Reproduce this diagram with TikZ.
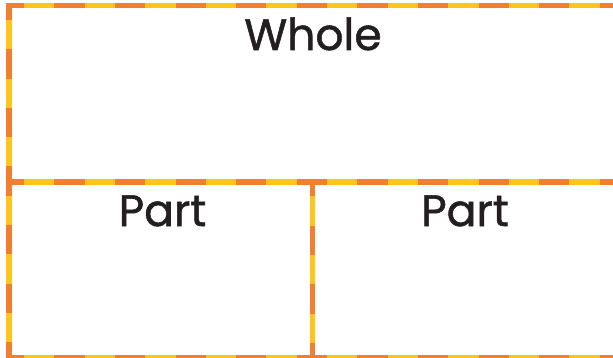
\documentclass[tikz,border=0pt]{standalone}
\usepackage{fontspec}
\setmainfont{Poppins}
\newfontfamily\lblfont[FakeBold=1.2]{Poppins}
\definecolor{dorange}{HTML}{F37F2E}
\definecolor{dyellow}{HTML}{FFC51C}
\definecolor{ink}{HTML}{231F20}
\begin{document}
\begin{tikzpicture}[x=1pt,y=-1pt,
  base/.style={draw=dyellow,line width=5.5pt},
  hdash/.style={draw=dorange,line width=5.5pt,dash pattern=on 30.3pt off 30.3pt,dash phase=12.3pt},
  vdash/.style={draw=dorange,line width=5.5pt,dash pattern=on 29.3pt off 29.3pt},
  lbl/.style={anchor=base,text=ink,font=\lblfont\fontsize{44}{48}\selectfont,inner sep=0pt}]
\useasboundingbox (0,0) rectangle (613,358);
\clip (0,0) rectangle (613,358);
% corner coordinates
\coordinate (tl) at (9,3);
\coordinate (tle) at (6,5.5);
\coordinate (tre) at (613,5.5);
\coordinate (ml) at (6,182);
\coordinate (mr) at (613,182);
\coordinate (bl) at (6,357.5);
\coordinate (br) at (613,357.5);
\coordinate (lb) at (9,358);
\coordinate (dt) at (312.5,182);
\coordinate (db) at (312.5,358);
% yellow base lines
\path[base] (tle) -- (tre);
\path[base] (ml) -- (mr);
\path[base] (bl) -- (br);
\path[base] (tl) -- (lb);
\path[base] (dt) -- (db);
% orange dashes
\path[hdash] (tle) -- (tre);
\path[hdash] (ml) -- (mr);
\path[hdash] (bl) -- (br);
\path[vdash,dash phase=12.3pt] (tl) -- (lb);
\path[vdash,dash phase=15pt] (dt) -- (db);
% labels
\node[lbl] (whole) at (313,50) {Whole};
\node[lbl] (part1) at (162.5,226) {Part};
\node[lbl] (part2) at (465,226) {Part};
\end{tikzpicture}
\end{document}
